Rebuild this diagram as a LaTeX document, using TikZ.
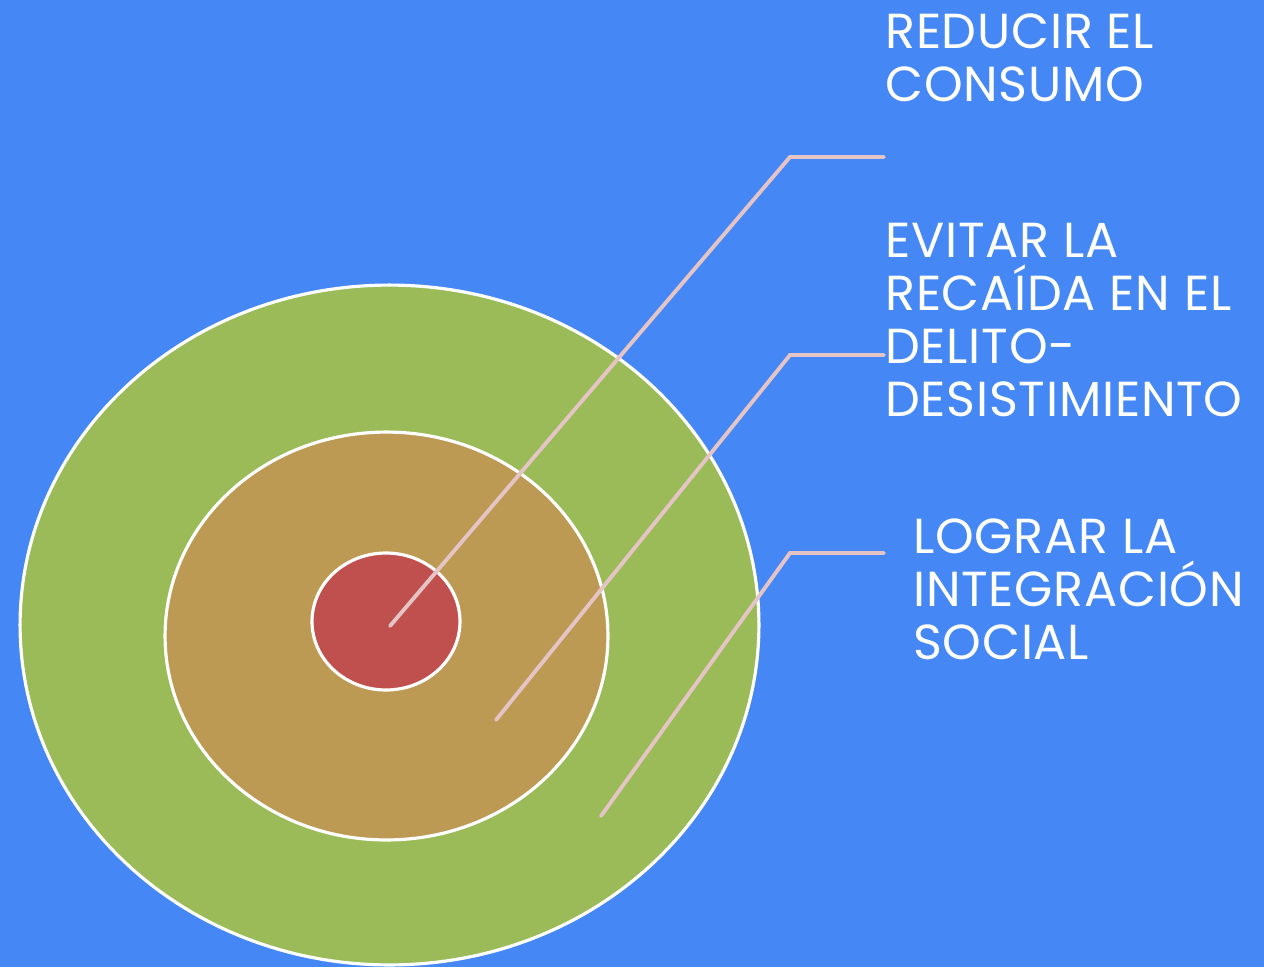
\documentclass[tikz,border=0pt]{standalone}
\usepackage{fontspec}
\setmainfont{Poppins}[LetterSpace=1.5]
\usetikzlibrary{shapes.geometric}
\definecolor{fondo}{RGB}{68,135,245}
\definecolor{verde}{RGB}{155,187,89}
\definecolor{ocre}{RGB}{189,154,83}
\definecolor{rojo}{RGB}{192,80,77}
\definecolor{rosa}{RGB}{228,196,196}

\begin{document}
\begin{tikzpicture}[x=0.02cm, y=-0.02cm,
					anillo/.style = {shape=ellipse, draw=white, line width=1.8pt,
						inner sep=0pt},
					rotulo/.style = {anchor=north west, inner sep=0pt, align=left,
						text=white, font=\fontsize{28}{30.2}\selectfont},
					guia/.style = {draw=rosa, line width=2.2pt, line cap=round}]
	\fill[fondo] (0,0) rectangle (1264,967);
	\useasboundingbox (0,0) rectangle (1264,967);
	% anillos
	\node[anillo, fill=verde, minimum width=14.78cm, minimum height=13.6cm]
		(externo) at (389.5,625) {};
	\node[anillo, fill=ocre, minimum width=8.86cm, minimum height=8.16cm]
		(medio) at (386.5,636) {};
	\node[anillo, fill=rojo, minimum width=2.96cm, minimum height=2.74cm]
		(interno) at (386,621.5) {};
	% puntos de las guias
	\coordinate (c1) at (390,626);
	\coordinate (q1) at (790,157);
	\coordinate (f1) at (884,157);
	\coordinate (c2) at (496,720);
	\coordinate (q2) at (790,355);
	\coordinate (f2) at (884,355);
	\coordinate (c3) at (601,816);
	\coordinate (q3) at (790,553);
	\coordinate (f3) at (884,553);
	\draw[guia] (c1) -- (q1) -- (f1);
	\draw[guia] (c2) -- (q2) -- (f2);
	\draw[guia] (c3) -- (q3) -- (f3);
	% textos
	\node[rotulo] (consumo) at (885,13) {REDUCIR EL\\CONSUMO};
	\node[rotulo] (delito) at (885,223) {EVITAR LA\\RECAÍDA EN EL\\DELITO-\\DESISTIMIENTO};
	\node[rotulo] (social) at (913,518) {LOGRAR LA\\INTEGRACIÓN\\SOCIAL};
\end{tikzpicture}
\end{document}
